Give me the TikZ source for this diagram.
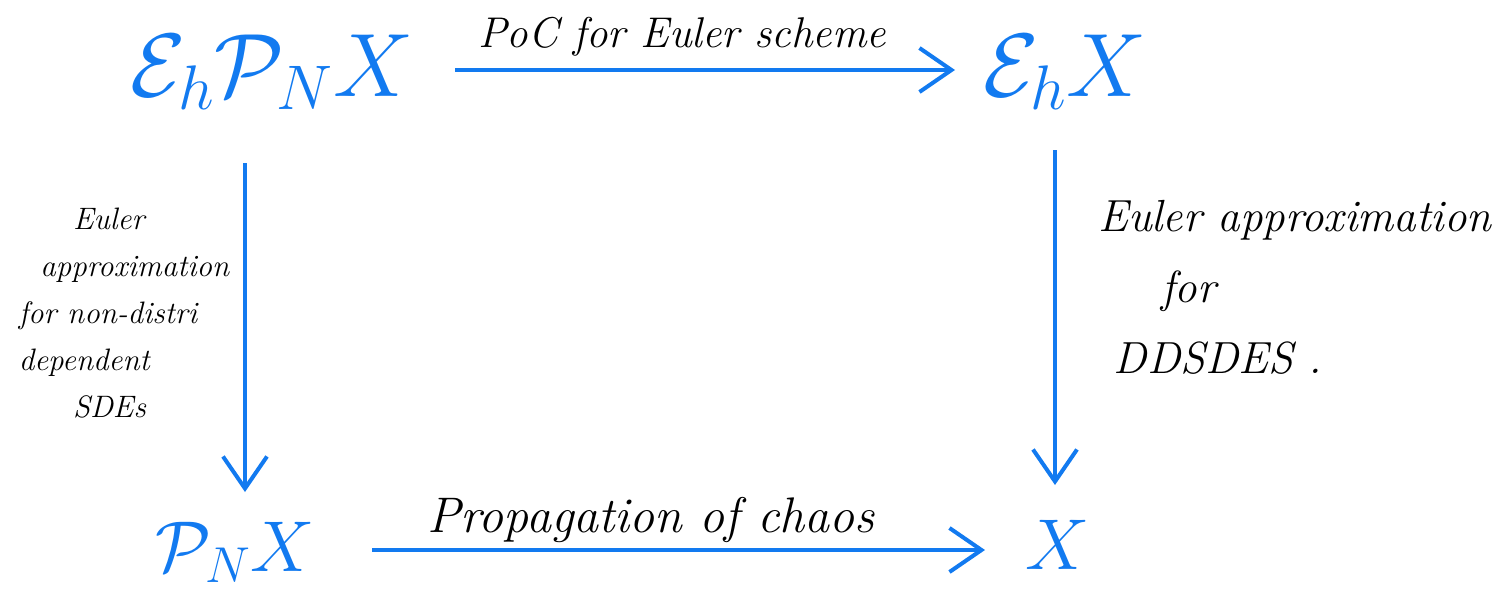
\RequirePackage{fix-cm}
\documentclass[tikz,border=0pt]{standalone}
\usetikzlibrary{arrows.meta}
\definecolor{inkblue}{RGB}{18,122,240}
\begin{document}
\begin{tikzpicture}[x=1pt,y=-1pt,
  obj/.style={text=inkblue, inner sep=0pt, font=\fontsize{90}{90}\selectfont},
  lbl/.style={inner sep=0pt, font=\fontsize{#1}{#1}\selectfont\itshape},
  lbl/.default=44,
  maparrow/.style={draw=inkblue, line width=4pt,
    -{Straight Barb[length=32pt,width=44pt,line width=4pt]}}]
\useasboundingbox (0,0) rectangle (1509,592);
% the four corners of the square
\node[obj] (EPX) at (272,72) {$\mathcal{E}_h\mathcal{P}_N X$};
\node[obj] (EX) at (1065,72) {$\mathcal{E}_h X$};
\node[obj, font=\fontsize{72}{72}\selectfont] (PX) at (235,552) {$\mathcal{P}_N X$};
\node[obj, font=\fontsize{72}{72}\selectfont] (X) at (1058,545) {$X$};
% arrows (yshift is upward on the page)
\draw[maparrow] ([xshift=183pt,yshift=2pt]EPX.center) -- ([xshift=-110pt,yshift=2pt]EX.center);
\draw[maparrow] ([xshift=-27pt,yshift=-91pt]EPX.center) -- ([xshift=10pt,yshift=60pt]PX.center);
\draw[maparrow] ([xshift=-10pt,yshift=-78pt]EX.center) -- ([xshift=-3pt,yshift=60pt]X.center);
\draw[maparrow] ([xshift=137pt,yshift=2pt]PX.center) -- ([xshift=-73pt,yshift=-5pt]X.center);
% labels
\node[lbl=43] (top) at (682,37) {PoC for Euler scheme};
\node[lbl=50] (bot) at (651,520) {Propagation of chaos};
\node[lbl=31, align=left] (left) at (124,313) {\ \ \ \ \ Euler\\[16pt] \ \ approximation\\[16pt] for non-distri\\[16pt] dependent\\[16pt] \ \ \ \ \ SDEs};
\node[lbl=45, align=left, anchor=north west] (right) at (1098,200) {Euler approximation\\[26pt] \ \ \ \ for\\[26pt] \ DDSDES .};
\end{tikzpicture}
\end{document}
